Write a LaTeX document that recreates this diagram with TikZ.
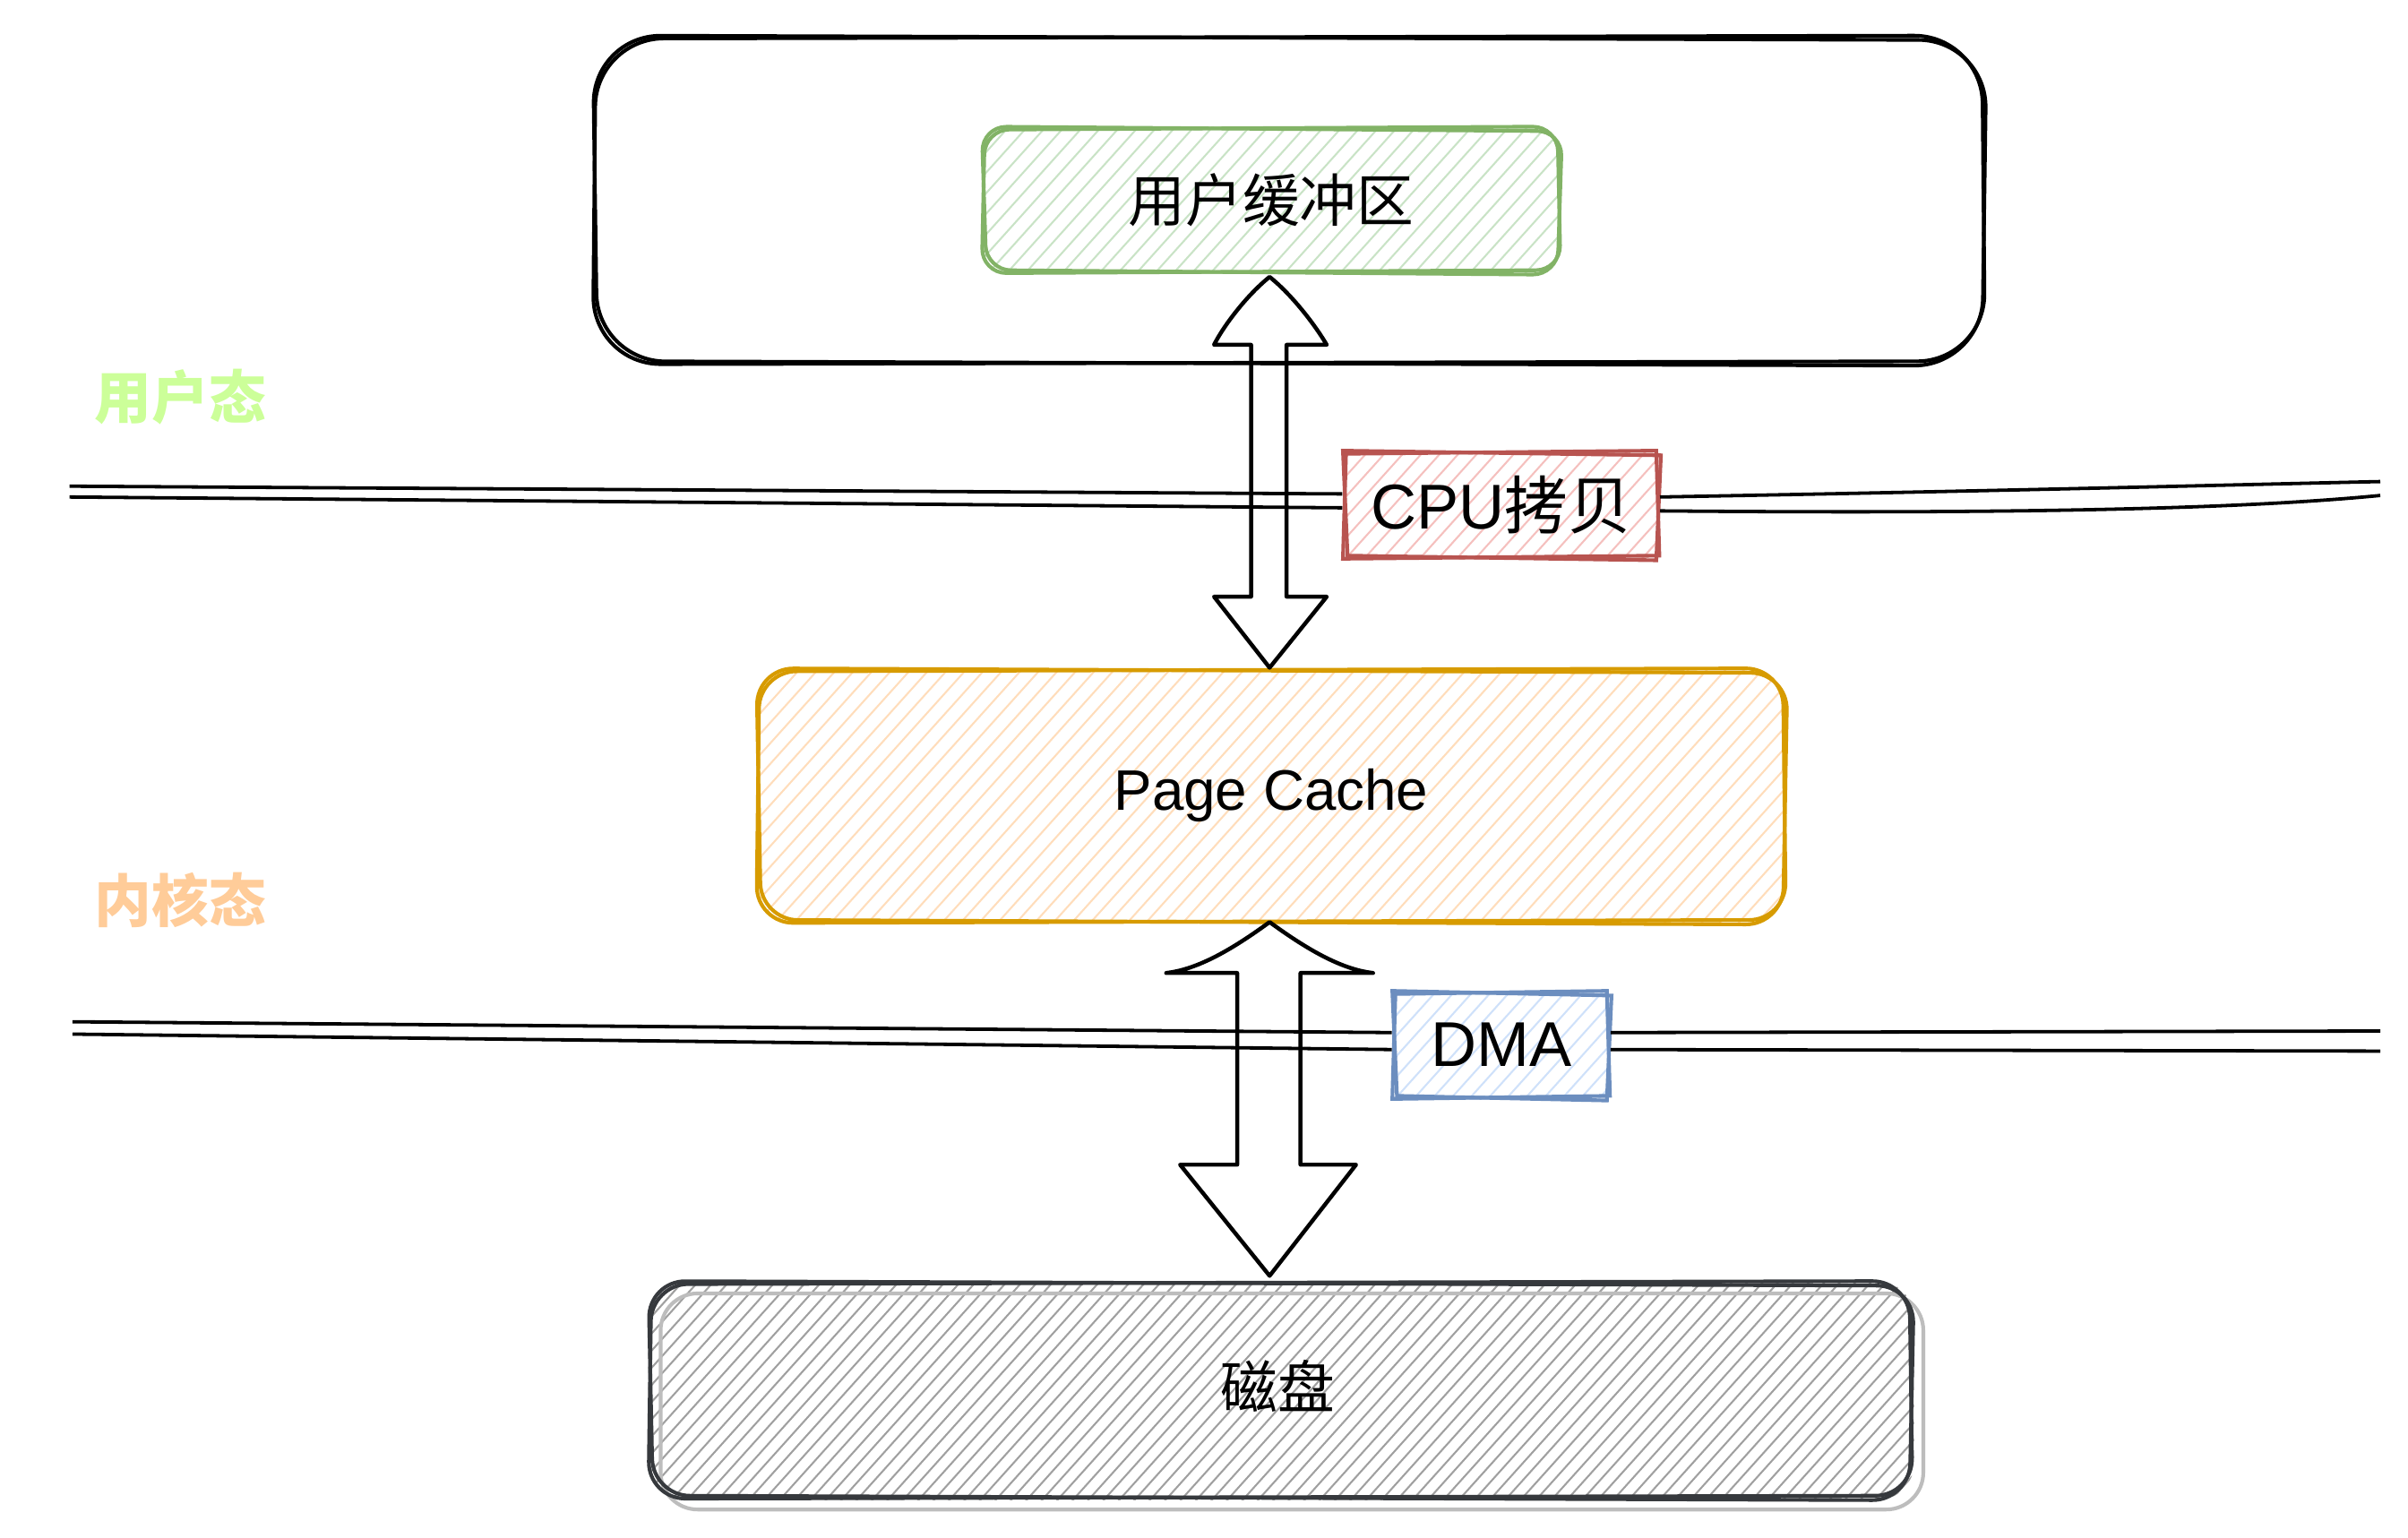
\documentclass[tikz,border=0pt]{standalone}
\usepackage{fontspec}
\setmainfont{Liberation Sans}
\newfontfamily\cjk{Noto Sans CJK SC}
\usetikzlibrary{calc,fit}
\definecolor{gstroke}{HTML}{82B366}
\definecolor{gfill}{HTML}{C9E3C6}
\definecolor{ostroke}{HTML}{D79B00}
\definecolor{ofill}{HTML}{FFDDBB}
\definecolor{rstroke}{HTML}{B85450}
\definecolor{rfill}{HTML}{F5C0BE}
\definecolor{bstroke}{HTML}{6C8EBF}
\definecolor{bfill}{HTML}{CFE1FA}
\definecolor{dstroke}{HTML}{36393D}
\definecolor{dfill}{HTML}{A0A0A0}
\definecolor{dshadow}{HTML}{BDBDBD}
\definecolor{ulabel}{HTML}{CCFF99}
\definecolor{klabel}{HTML}{FFCC99}
% #1 style, #2 x1, #3 y1, #4 x2, #5 y2, #6 radius, #7 spacing
\newcommand\hatchbox[7]{%
  \begin{scope}
    \clip[rounded corners=#6] (#2,#3) rectangle (#4,#5);
    \pgfmathsetmacro\hH{#5-#3}
    \pgfmathsetmacro\xS{#2-0.9*\hH-10}
    \pgfmathtruncatemacro\nN{(#4-\xS)/#7+1}
    \foreach \i in {0,...,\nN} \draw[#1] ({\xS+\i*#7},{#5+3}) -- ++({0.9*(\hH+6)},{-(\hH+6)});
  \end{scope}}
% #1 style, #2 x1, #3 y1, #4 x2, #5 y2, #6 radius
\newcommand\skrect[6]{%
  \draw[#1,rounded corners=#6] (#2+1,#3+1) -- (#4-1,#3-1) -- (#4+1,#5-1) -- (#2-1,#5+1) -- cycle;
  \draw[#1,rounded corners=#6] (#2-1,#3-1) -- (#4+2,#3+2) -- (#4-1,#5+2) -- (#2+2,#5-1) -- cycle;}
\tikzset{
  box/.style={inner sep=0pt, draw=none},
  lbl/.style={font=\fontsize{18.5}{22}\selectfont},
  biglbl/.style={font=\fontsize{20.5}{24}\selectfont},
  divider/.style={draw=black, line width=1.1pt},
  blockarrow/.style={draw=black, fill=none, line width=1.3pt, line join=round},
  hatchline/.style={line width=0.6pt},
  outline/.style={line width=1.2pt}
}
\begin{document}
\begin{tikzpicture}[x=0.5pt,y=-0.5pt]
\useasboundingbox (0,0) rectangle (1560,996);
\fill[white] (0,0) rectangle (1560,996);

% ---------- divider lines ----------
\coordinate (l1a) at (45,315);
\coordinate (l1b) at (45,322);
\coordinate (r1a) at (1542,312);
\coordinate (r1b) at (1542,321);
\coordinate (l2a) at (47,662);
\coordinate (l2b) at (47,670);
\coordinate (r2a) at (1542,668);
\coordinate (r2b) at (1542,681);

% ---------- user space box ----------
\skrect{outline,draw=black}{385}{24}{1285}{235}{22}
\node[box, fit={(385,22) (1285,235)}] (proc) {};

% ---------- user buffer ----------
\hatchbox{hatchline,draw=gfill}{637}{82}{1010}{177}{8}{12}
\skrect{outline,draw=gstroke}{637}{83}{1010}{176}{8}
\node[box, lbl, fit={(637,82) (1010,177)}] (ub) {};
\node[lbl] (ubt) at (ub.center) {\cjk 用户缓冲区};

% ---------- labels on the left ----------
\node[lbl, text=ulabel] (ul) at (117,257) {\cjk\bfseries 用户态};
\node[lbl, text=klabel] (kl) at (117,583) {\cjk\bfseries 内核态};

% ---------- page cache ----------
\hatchbox{hatchline,draw=ofill}{490}{433}{1157}{598}{12}{12}
\skrect{outline,draw=ostroke}{491}{434}{1156}{597}{12}
\node[box, fit={(490,433) (1157,598)}] (pc) {};
\node[lbl] (pct) at (pc.center) {Page Cache};

% ---------- disk ----------
\hatchbox{hatchline,draw=dfill}{420}{830}{1240}{972}{12}{10}
\draw[outline,draw=dshadow,rounded corners=12] (428,838) rectangle (1246,978);
\skrect{outline,draw=dstroke}{421}{831}{1238}{970}{12}
\node[box, fit={(420,830) (1240,972)}] (disk) {};
\node[lbl] (diskt) at ($(disk.center)+(-2,-3)$) {\cjk 磁盘};

% ---------- CPU copy label ----------
\hatchbox{hatchline,draw=rfill}{870}{292}{1075}{362}{0}{12}
\node[box, fit={(870,292) (1075,362)}] (cpu) {};
\skrect{outline,draw=rstroke}{871}{293}{1074}{361}{0}
\node[biglbl] (cput) at (cpu.center) {CPU{\cjk 拷贝}};

% ---------- DMA label ----------
\hatchbox{hatchline,draw=bfill}{902}{642}{1043}{712}{0}{12}
\node[box, fit={(902,642) (1043,712)}] (dma) {};
\skrect{outline,draw=bstroke}{903}{643}{1042}{711}{0}
\node[biglbl] (dmat) at (dma.center) {DMA};

% ---------- divider strokes ----------
\draw[divider] (l1a) -- ($(cpu.west)+(0,-7)$);
\draw[divider] (l1b) -- ($(cpu.west)+(0,2)$);
\draw[divider] ($(cpu.east)+(0,-5)$) .. controls (1300,318) and (1450,314) .. (r1a);
\draw[divider] ($(cpu.east)+(0,4)$) .. controls (1300,333) and (1450,330) .. (r1b);
\draw[divider] (l2a) -- ($(dma.west)+(0,-8)$);
\draw[divider] (l2b) -- ($(dma.west)+(0,3)$);
\draw[divider] ($(dma.east)+(0,-8)$) -- (r2a);
\draw[divider] ($(dma.east)+(0,3)$) -- (r2b);

% ---------- arrow: user buffer <-> page cache ----------
\coordinate (a1t) at ($(ub.south)+(-1,2)$);
\coordinate (a1b) at ($(pc.north)+(-1,0)$);
\draw[blockarrow] (a1t) .. controls ($(a1t)+(15,12)$) and ($(a1t)+(30,32)$) .. ($(a1t)+(37,44)$)
  -- ($(a1t)+(11,44)$) -- ($(a1b)+(11,-46)$) -- ($(a1b)+(37,-46)$) -- (a1b)
  -- ($(a1b)+(-36,-46)$) -- ($(a1b)+(-12,-46)$) -- ($(a1t)+(-12,44)$) -- ($(a1t)+(-36,44)$)
  .. controls ($(a1t)+(-30,32)$) and ($(a1t)+(-15,12)$) .. (a1t) -- cycle;

% ---------- arrow: page cache <-> disk ----------
\coordinate (a2t) at ($(pc.south)+(-1,-1)$);
\coordinate (a2b) at ($(pc.south |- disk.north)+(-1,-3)$);
\draw[blockarrow] (a2t) .. controls ($(a2t)+(30,22)$) and ($(a2t)+(50,31)$) .. ($(a2t)+(67,33)$)
  -- ($(a2t)+(20,33)$) -- ($(a2b)+(20,-72)$) -- ($(a2b)+(56,-72)$) -- (a2b)
  -- ($(a2b)+(-58,-72)$) -- ($(a2b)+(-21,-72)$) -- ($(a2t)+(-21,33)$) -- ($(a2t)+(-67,33)$)
  .. controls ($(a2t)+(-50,31)$) and ($(a2t)+(-30,22)$) .. (a2t) -- cycle;
\end{tikzpicture}
\end{document}
